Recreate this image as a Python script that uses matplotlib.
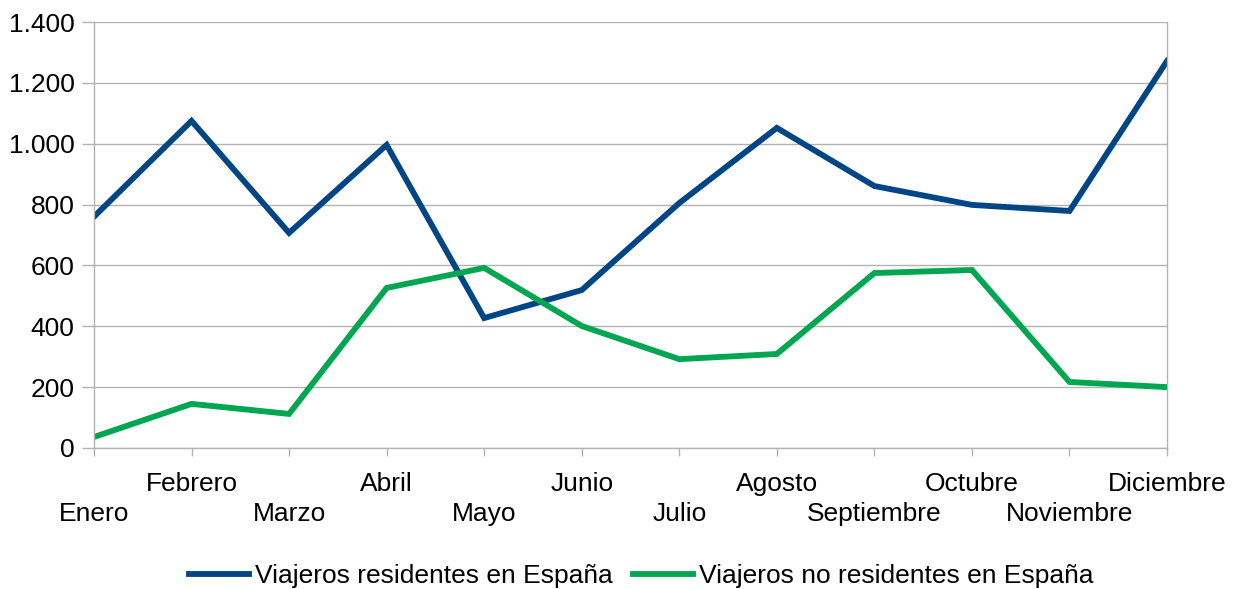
import numpy as np
import matplotlib
matplotlib.use("Agg")
import matplotlib.pyplot as plt

plt.rcParams["font.family"] = ["Liberation Sans", "DejaVu Sans"]

meses = ["Enero", "Febrero", "Marzo", "Abril", "Mayo", "Junio", "Julio",
         "Agosto", "Septiembre", "Octubre", "Noviembre", "Diciembre"]
residentes = [760, 1075, 707, 996, 427, 519, 805, 1052, 861, 799, 779, 1272]
no_residentes = [36, 145, 112, 526, 592, 401, 292, 309, 575, 585, 217, 200]
yticks = [0, 200, 400, 600, 800, 1000, 1200, 1400]
ytick_labels = ["0", "200", "400", "600", "800", "1.000", "1.200", "1.400"]

BLUE = "#004586"
GREEN = "#00a650"
GRID = "#b3b3b3"
FS = 19

fig = plt.figure(figsize=(12.33, 5.89), dpi=100)
ax = fig.add_axes([0.0762, 0.2394, 0.8703, 0.7232])

x = np.arange(len(meses))
ax.plot(x, residentes, color=BLUE, lw=4.2, label="Viajeros residentes en España",
        solid_joinstyle="miter")
ax.plot(x, no_residentes, color=GREEN, lw=4.2, label="Viajeros no residentes en España",
        solid_joinstyle="miter")

ax.set_xlim(0, len(meses) - 1)
ax.set_ylim(0, 1400)
ax.set_yticks(yticks)
ax.set_yticklabels(ytick_labels, fontsize=FS)
ax.set_xticks(x)
ax.set_xticklabels(meses, fontsize=FS)

ax.grid(axis="y", color=GRID, lw=1)
ax.set_axisbelow(True)
ax.spines["top"].set_visible(False)
for s in ["left", "right", "bottom"]:
    ax.spines[s].set_color(GRID)
    ax.spines[s].set_linewidth(1)

ax.tick_params(axis="y", length=9, width=1, color=GRID, pad=5)
ax.tick_params(axis="x", length=6, width=1, color=GRID)
for i, tick in enumerate(ax.xaxis.get_major_ticks()):
    tick.set_pad(33 if i % 2 == 0 else 11)

fig.legend(loc="center", bbox_to_anchor=(0.52, 0.022), ncol=2, frameon=False,
           fontsize=FS, handlelength=2.27, handletextpad=0.23, columnspacing=0.76)

fig.savefig("out.png", dpi=100)
